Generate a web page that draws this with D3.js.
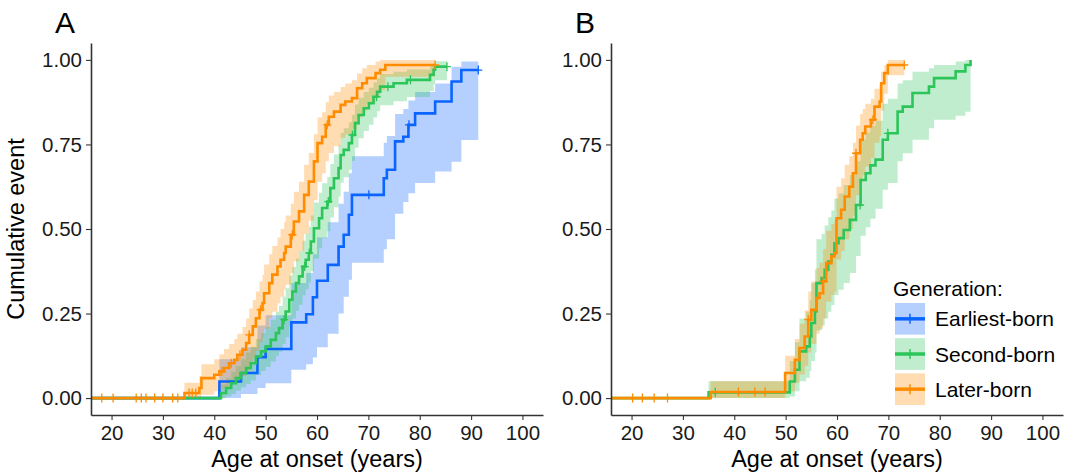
<!DOCTYPE html>
<html>
<head>
<meta charset="utf-8">
<script src="https://cdn.jsdelivr.net/npm/d3@7"></script>
<style>
  html, body { margin: 0; padding: 0; background: #ffffff; }
  svg { display: block; font-family: "Liberation Sans", Arial, Helvetica, sans-serif; }
</style>
</head>
<body>
<svg id="chart" width="1075" height="476"></svg>
<script>
// ---------------- DATA ----------------
const ageTicks = [20, 30, 40, 50, 60, 70, 80, 90, 100];
const cumTicks = [0, 0.25, 0.5, 0.75, 1];
const panelLabels = ["A", "B"];
const generationNames = ["Earliest-born", "Second-born", "Later-born"];

// Panel A, Earliest-born
const aEarliestTime  = [41.0, 45.2, 48.4, 50.0, 55.0, 57.9, 59.2, 60.0, 62.1, 64.2, 65.2, 66.2, 66.8, 73.0, 73.6, 75.2, 76.8, 77.8, 79.1, 83.0, 86.2, 88.1];
const aEarliestCum   = [0.049, 0.074, 0.121, 0.145, 0.224, 0.248, 0.298, 0.347, 0.394, 0.448, 0.483, 0.542, 0.601, 0.650, 0.675, 0.759, 0.773, 0.808, 0.842, 0.877, 0.936, 0.970];
const aEarliestLower = [0.000, 0.012, 0.030, 0.044, 0.084, 0.100, 0.120, 0.150, 0.190, 0.250, 0.300, 0.350, 0.400, 0.440, 0.470, 0.545, 0.580, 0.606, 0.636, 0.670, 0.699, 0.763];
const aEarliestUpper = [0.115, 0.150, 0.215, 0.245, 0.340, 0.370, 0.425, 0.475, 0.520, 0.575, 0.610, 0.665, 0.715, 0.755, 0.775, 0.840, 0.855, 0.880, 0.905, 0.930, 0.980, 0.995];
const aEarliestEnd = 91.4;
const aEarliestCensor = [70.1, 77.9, 91.4];

// Panel A, Second-born
const aSecondTime  = [41.3, 42.3, 43.3, 44.2, 45.2, 46.2, 47.1, 48.1, 49.1, 50.0, 51.0, 52.0, 52.6, 53.3, 53.9, 54.6, 55.2, 55.9, 56.5, 57.2, 57.8, 58.4, 58.8, 59.4, 60.4, 61.0, 62.0, 62.6, 63.3, 64.2, 64.6, 65.2, 66.2, 66.8, 67.4, 68.1, 69.1, 70.1, 71.0, 71.7, 72.3, 74.9, 77.5, 82.0, 82.7, 83.0];
const aSecondCum   = [0.015, 0.030, 0.044, 0.059, 0.074, 0.089, 0.103, 0.123, 0.138, 0.153, 0.172, 0.192, 0.207, 0.232, 0.256, 0.291, 0.315, 0.340, 0.360, 0.389, 0.409, 0.429, 0.463, 0.502, 0.532, 0.562, 0.581, 0.621, 0.650, 0.680, 0.719, 0.734, 0.754, 0.778, 0.813, 0.837, 0.857, 0.872, 0.891, 0.906, 0.921, 0.931, 0.941, 0.956, 0.971, 0.980];
const aSecondLower = [0.000, 0.005, 0.012, 0.022, 0.032, 0.042, 0.052, 0.068, 0.080, 0.092, 0.108, 0.125, 0.138, 0.160, 0.180, 0.212, 0.235, 0.258, 0.276, 0.304, 0.322, 0.342, 0.375, 0.413, 0.443, 0.473, 0.493, 0.534, 0.564, 0.596, 0.637, 0.653, 0.675, 0.701, 0.740, 0.768, 0.790, 0.808, 0.830, 0.848, 0.866, 0.878, 0.890, 0.908, 0.928, 0.940];
const aSecondUpper = [0.040, 0.060, 0.078, 0.095, 0.115, 0.135, 0.152, 0.175, 0.192, 0.210, 0.232, 0.255, 0.272, 0.300, 0.325, 0.362, 0.388, 0.412, 0.435, 0.465, 0.486, 0.506, 0.540, 0.578, 0.607, 0.635, 0.654, 0.692, 0.720, 0.748, 0.784, 0.798, 0.816, 0.838, 0.868, 0.888, 0.905, 0.918, 0.934, 0.946, 0.958, 0.965, 0.972, 0.982, 0.991, 0.996];
const aSecondEnd = 85.3;
const aSecondCensor = [53.6, 57.6, 58.5, 62.2, 66.9, 71.6, 73.8, 78.2, 85.3];

// Panel A, Later-born
const aLaterTime  = [34.2, 37.1, 37.5, 40.0, 41.0, 41.9, 42.9, 43.9, 44.5, 45.5, 46.2, 46.8, 47.5, 48.1, 48.8, 49.4, 49.7, 50.7, 51.3, 52.3, 52.9, 53.6, 53.9, 54.9, 55.5, 56.5, 57.5, 58.4, 59.4, 60.1, 61.0, 61.7, 62.3, 63.3, 64.6, 65.5, 66.8, 67.8, 68.8, 69.7, 71.4, 72.3, 73.3];
const aLaterCum   = [0.015, 0.030, 0.059, 0.069, 0.079, 0.089, 0.103, 0.113, 0.128, 0.143, 0.163, 0.187, 0.212, 0.236, 0.261, 0.281, 0.310, 0.340, 0.365, 0.389, 0.409, 0.429, 0.448, 0.483, 0.522, 0.552, 0.601, 0.640, 0.700, 0.754, 0.773, 0.808, 0.832, 0.847, 0.867, 0.877, 0.887, 0.916, 0.931, 0.946, 0.961, 0.971, 0.985];
const aLaterLower = [0.000, 0.000, 0.010, 0.020, 0.025, 0.030, 0.040, 0.045, 0.055, 0.065, 0.080, 0.100, 0.120, 0.140, 0.165, 0.180, 0.205, 0.235, 0.255, 0.280, 0.300, 0.320, 0.335, 0.370, 0.405, 0.435, 0.485, 0.525, 0.585, 0.640, 0.665, 0.700, 0.725, 0.745, 0.770, 0.780, 0.795, 0.830, 0.850, 0.870, 0.890, 0.910, 0.950];
const aLaterUpper = [0.045, 0.065, 0.100, 0.115, 0.130, 0.145, 0.160, 0.175, 0.190, 0.210, 0.235, 0.265, 0.290, 0.315, 0.345, 0.365, 0.395, 0.425, 0.450, 0.475, 0.500, 0.520, 0.540, 0.575, 0.610, 0.640, 0.690, 0.725, 0.780, 0.830, 0.845, 0.875, 0.895, 0.905, 0.920, 0.930, 0.940, 0.960, 0.975, 0.985, 0.995, 1.000, 1.000];
const aLaterEnd = 83.0;
const aLaterCensor = [18.1, 20.3, 24.8, 25.8, 26.7, 28.4, 30.0, 31.9, 32.9, 35.1, 35.7, 36.4, 41.5, 43.3, 45.0, 46.8, 49.0, 55.2, 62.0, 83.0];

// Panel B, Second-born
const bSecondTime  = [35.0, 50.8, 51.8, 52.7, 54.0, 54.7, 55.0, 55.7, 56.0, 57.0, 57.6, 58.3, 58.9, 59.5, 60.3, 61.3, 62.5, 63.7, 64.6, 65.6, 66.5, 67.5, 68.9, 69.9, 71.8, 72.8, 74.7, 77.9, 78.9, 83.1, 85.0, 86.0];
const bSecondCum   = [0.017, 0.049, 0.084, 0.138, 0.153, 0.182, 0.222, 0.256, 0.340, 0.355, 0.379, 0.404, 0.424, 0.458, 0.473, 0.497, 0.527, 0.571, 0.645, 0.665, 0.688, 0.705, 0.764, 0.783, 0.847, 0.862, 0.902, 0.921, 0.946, 0.966, 0.985, 1.000];
const bSecondLower = [0.000, 0.005, 0.020, 0.050, 0.060, 0.080, 0.110, 0.135, 0.200, 0.215, 0.235, 0.255, 0.275, 0.305, 0.320, 0.340, 0.370, 0.420, 0.480, 0.505, 0.530, 0.560, 0.616, 0.636, 0.700, 0.724, 0.764, 0.798, 0.823, 0.835, 0.847, 0.860];
const bSecondUpper = [0.050, 0.110, 0.165, 0.235, 0.255, 0.290, 0.340, 0.380, 0.470, 0.485, 0.510, 0.535, 0.555, 0.590, 0.605, 0.630, 0.660, 0.700, 0.765, 0.785, 0.805, 0.820, 0.870, 0.885, 0.930, 0.940, 0.965, 0.975, 0.985, 0.995, 1.000, 1.000];
const bSecondEnd = 86.0;
const bSecondCensor = [36.3, 64.5, 69.9];

// Panel B, Later-born
const bLaterTime  = [35.4, 49.9, 51.8, 52.7, 53.7, 54.4, 55.0, 56.0, 56.6, 57.3, 57.9, 58.9, 59.5, 59.9, 60.8, 61.5, 62.4, 63.1, 63.7, 64.5, 65.0, 65.5, 66.6, 67.3, 68.3, 68.6, 69.2, 69.9];
const bLaterCum   = [0.018, 0.074, 0.113, 0.148, 0.182, 0.232, 0.261, 0.296, 0.310, 0.345, 0.399, 0.419, 0.429, 0.532, 0.557, 0.596, 0.625, 0.665, 0.724, 0.764, 0.783, 0.803, 0.823, 0.862, 0.877, 0.931, 0.961, 0.985];
const bLaterLower = [0.000, 0.020, 0.045, 0.070, 0.095, 0.135, 0.160, 0.190, 0.205, 0.235, 0.285, 0.305, 0.315, 0.410, 0.435, 0.470, 0.500, 0.540, 0.600, 0.640, 0.660, 0.685, 0.710, 0.755, 0.775, 0.850, 0.900, 0.955];
const bLaterUpper = [0.050, 0.125, 0.175, 0.220, 0.260, 0.315, 0.345, 0.385, 0.400, 0.440, 0.495, 0.515, 0.525, 0.625, 0.650, 0.690, 0.715, 0.755, 0.805, 0.840, 0.855, 0.870, 0.885, 0.915, 0.925, 0.965, 0.985, 1.000];
const bLaterEnd = 73.1;
const bLaterCensor = [20.2, 22.1, 24.4, 27.0, 40.8, 44.0, 46.0, 54.4, 57.3, 63.7, 67.0, 73.1];

// ---------------- STYLE ----------------
const colors = { earliest: "#0a64ff", second: "#2cc55a", later: "#ff8c00" };
const fillOpacity = 0.3;
const font = '"Liberation Sans", Arial, Helvetica, sans-serif';

// ---------------- BUILD ----------------
function series(key, time, cum, lower, upper, end, censor) {
  return { key, time, cum, lower, upper, end, censor };
}
const panels = [
  {
    label: panelLabels[0], left: 91, right: 543, yTitle: true,
    series: [
      series("earliest", aEarliestTime, aEarliestCum, aEarliestLower, aEarliestUpper, aEarliestEnd, aEarliestCensor),
      series("second", aSecondTime, aSecondCum, aSecondLower, aSecondUpper, aSecondEnd, aSecondCensor),
      series("later", aLaterTime, aLaterCum, aLaterLower, aLaterUpper, aLaterEnd, aLaterCensor)
    ],
    legend: false
  },
  {
    label: panelLabels[1], left: 611, right: 1063, yTitle: false,
    series: [
      series("second", bSecondTime, bSecondCum, bSecondLower, bSecondUpper, bSecondEnd, bSecondCensor),
      series("later", bLaterTime, bLaterCum, bLaterLower, bLaterUpper, bLaterEnd, bLaterCensor)
    ],
    legend: true
  }
];

const svg = d3.select("#chart");
const plotTop = 43, plotBottom = 415;

panels.forEach((P, pi) => {
  const x = d3.scaleLinear().domain([16, 104]).range([P.left, P.right]);
  const y = d3.scaleLinear().domain([-0.05, 1.05]).range([plotBottom, plotTop]);
  const g = svg.append("g");

  const clipId = "clip" + pi;
  svg.append("clipPath").attr("id", clipId)
    .append("rect").attr("x", P.left).attr("y", plotTop - 5)
    .attr("width", P.right - P.left).attr("height", plotBottom - plotTop + 5);

  const plot = g.append("g").attr("clip-path", `url(#${clipId})`);

  // confidence bands
  P.series.forEach(s => {
    const pts = s.time.map((t, i) => ({ t, lo: s.lower[i], hi: s.upper[i] }));
    const last = pts[pts.length - 1];
    pts.push({ t: s.end, lo: last.lo, hi: last.hi });
    const area = d3.area().curve(d3.curveStepAfter)
      .x(d => x(d.t)).y0(d => y(d.lo)).y1(d => y(d.hi));
    plot.append("path").datum(pts)
      .attr("d", area)
      .attr("fill", colors[s.key]).attr("fill-opacity", fillOpacity)
      .attr("stroke", "none");
  });

  // step curves
  P.series.forEach(s => {
    const pts = [{ t: 0, c: 0 }].concat(s.time.map((t, i) => ({ t, c: s.cum[i] })));
    pts.push({ t: s.end, c: s.cum[s.cum.length - 1] });
    const line = d3.line().curve(d3.curveStepAfter).x(d => x(d.t)).y(d => y(d.c));
    plot.append("path").datum(pts)
      .attr("d", line)
      .attr("fill", "none").attr("stroke", colors[s.key])
      .attr("stroke-width", 2.6).attr("stroke-linejoin", "miter");

    // censor marks
    const stepAt = t => {
      let c = 0;
      s.time.forEach((tt, i) => { if (tt <= t) c = s.cum[i]; });
      return c;
    };
    plot.append("g").selectAll("path").data(s.censor).join("path")
      .attr("d", t => {
        const cx = x(t), cy = y(stepAt(t));
        return `M${cx},${cy - 4.5}V${cy + 4.5}M${cx - 4},${cy}H${cx + 4}`;
      })
      .attr("stroke", colors[s.key]).attr("stroke-width", 1.3).attr("fill", "none");
  });

  // axes
  const xAxis = d3.axisBottom(x).tickValues(ageTicks).tickSizeInner(5).tickSizeOuter(0).tickPadding(5);
  const gx = g.append("g").attr("transform", `translate(0,${plotBottom})`).call(xAxis);
  const yAxis = d3.axisLeft(y).tickValues(cumTicks).tickFormat(d3.format(".2f"))
    .tickSizeInner(5).tickSizeOuter(0).tickPadding(4);
  const gy = g.append("g").attr("transform", `translate(${P.left},0)`).call(yAxis);

  [gx, gy].forEach(a => {
    a.select(".domain").attr("stroke", "#333").attr("stroke-width", 1.6);
    a.selectAll(".tick line").attr("stroke", "#333").attr("stroke-width", 1.1);
    a.selectAll(".tick text").attr("fill", "#1a1a1a")
      .style("font-family", font).style("font-size", "20.5px");
  });

  // titles
  g.append("text")
    .attr("x", (P.left + P.right) / 2).attr("y", 467)
    .attr("text-anchor", "middle")
    .style("font-family", font).style("font-size", "23.5px").attr("fill", "#000")
    .text("Age at onset (years)");

  if (P.yTitle) {
    g.append("text")
      .attr("transform", `translate(${P.left - 67},${(plotTop + plotBottom) / 2}) rotate(-90)`)
      .attr("text-anchor", "middle")
      .style("font-family", font).style("font-size", "23.5px").attr("fill", "#000")
      .text("Cumulative event");
  }

  g.append("text")
    .attr("x", P.left - 36).attr("y", 33)
    .style("font-family", font).style("font-size", "30px").attr("fill", "#000")
    .text(P.label);

  // legend
  if (P.legend) {
    const lg = g.append("g");
    lg.append("text").attr("x", 893).attr("y", 296)
      .style("font-family", font).style("font-size", "21px").attr("fill", "#000")
      .text("Generation:");
    const keys = ["earliest", "second", "later"];
    const ly = d3.scaleBand().domain(keys).range([303, 405]).paddingInner(0.1);
    keys.forEach((k, i) => {
      const y0 = ly(k), h = ly.bandwidth();
      lg.append("rect").attr("x", 895).attr("y", y0).attr("width", 30).attr("height", h)
        .attr("fill", colors[k]).attr("fill-opacity", fillOpacity);
      lg.append("line").attr("x1", 895).attr("x2", 925).attr("y1", y0 + h / 2).attr("y2", y0 + h / 2)
        .attr("stroke", colors[k]).attr("stroke-width", 3.5);
      lg.append("line").attr("x1", 910).attr("x2", 910).attr("y1", y0 + h / 2 - 5).attr("y2", y0 + h / 2 + 5)
        .attr("stroke", colors[k]).attr("stroke-width", 1.5);
      lg.append("text").attr("x", 935).attr("y", y0 + h / 2).attr("dy", "0.36em")
        .style("font-family", font).style("font-size", "21px").attr("fill", "#000")
        .text(generationNames[i]);
    });
  }
});
</script>
</body>
</html>
